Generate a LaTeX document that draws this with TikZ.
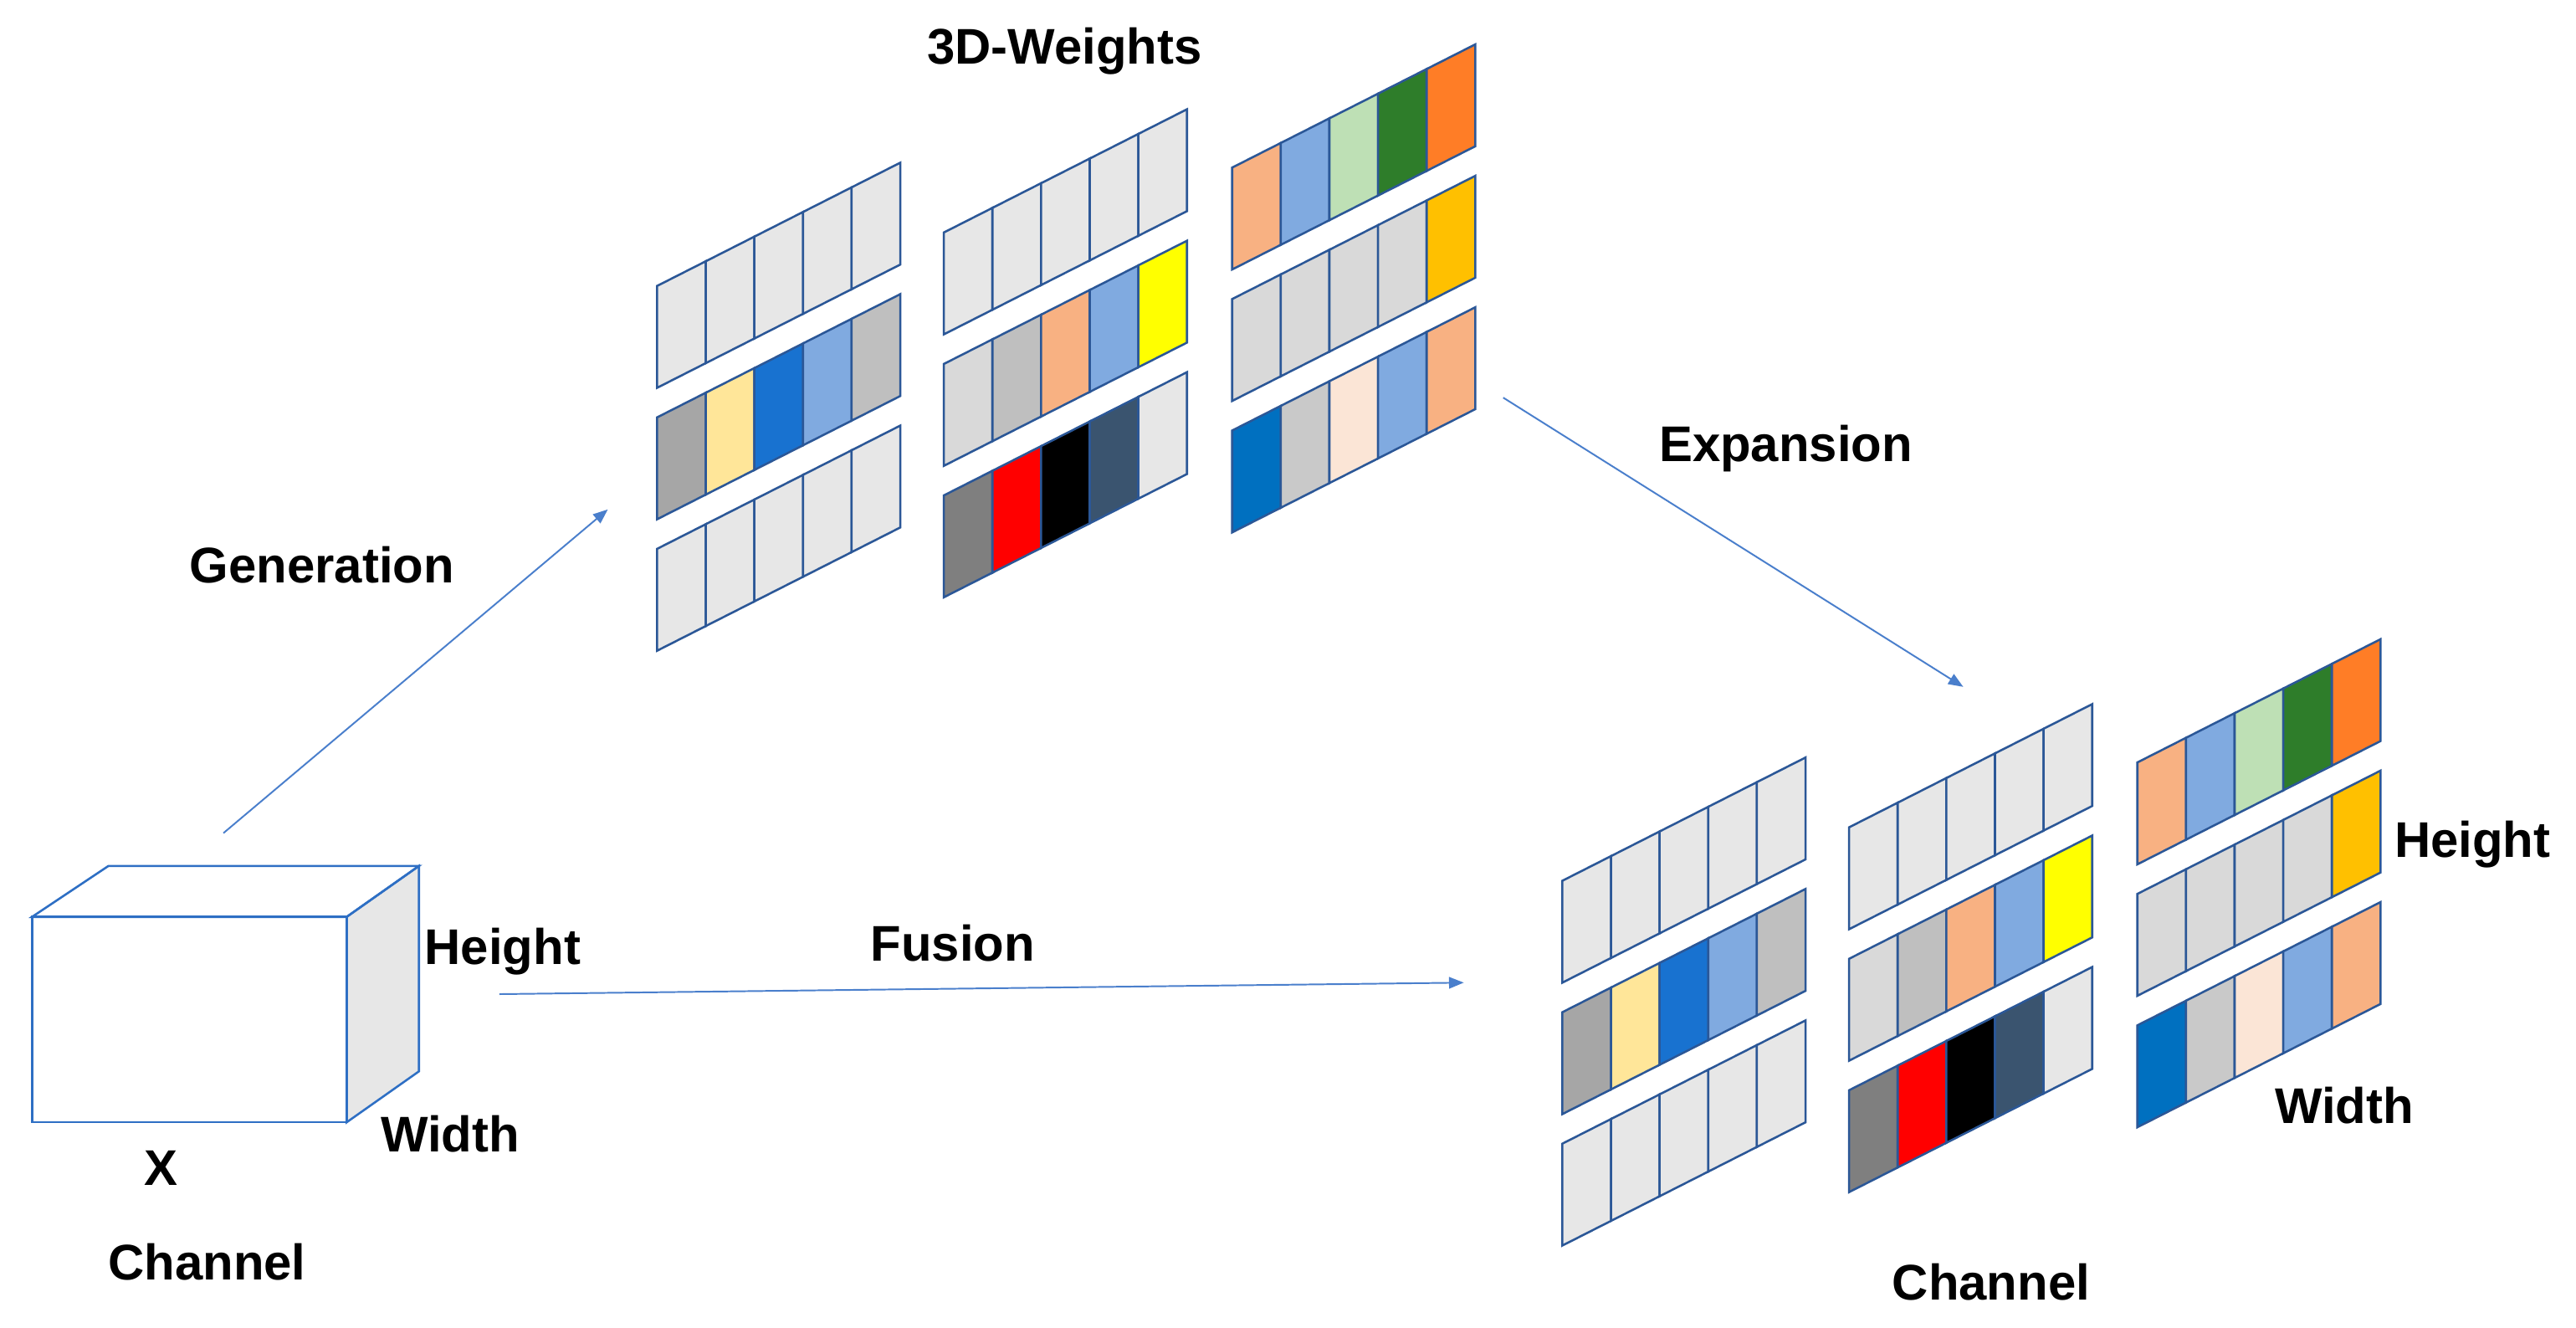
\documentclass[tikz,border=0pt]{standalone}
\usepackage{fontspec}
\setmainfont{Liberation Sans}
\usetikzlibrary{arrows.meta}
\definecolor{lg}{HTML}{E7E7E7}
\definecolor{mg}{HTML}{D9D9D9}
\definecolor{cA}{HTML}{A6A6A6}
\definecolor{cB}{HTML}{FFE699}
\definecolor{cC}{HTML}{1872D0}
\definecolor{cD}{HTML}{80AAE0}
\definecolor{cE}{HTML}{BFBFBF}
\definecolor{cF}{HTML}{F8B182}
\definecolor{cY}{HTML}{FFFF00}
\definecolor{cG}{HTML}{7F7F7F}
\definecolor{cR}{HTML}{FF0000}
\definecolor{cK}{HTML}{000000}
\definecolor{cS}{HTML}{3A546F}
\definecolor{cL}{HTML}{BEE0B5}
\definecolor{cN}{HTML}{2E7D2A}
\definecolor{cO}{HTML}{FF7D26}
\definecolor{cQ}{HTML}{FFC000}
\definecolor{cP}{HTML}{0070C0}
\definecolor{cI}{HTML}{C9C9C9}
\definecolor{cT}{HTML}{FBE5D6}
\definecolor{outl}{HTML}{2B5797}
\definecolor{arr}{HTML}{4A7FCC}
\definecolor{cubel}{HTML}{2E6FC4}
\newcommand\wstrip[3]{%
  \foreach \c [count=\i from 0] in {#3}{%
    \filldraw[fill=\c,draw=outl,line width=1.3pt,line join=miter]
      ({#1+\i*29.6},{#2-\i*15}) -- ({#1+(\i+1)*29.6},{#2-(\i+1)*15})
      -- ({#1+(\i+1)*29.6},{#2-(\i+1)*15+62}) -- ({#1+\i*29.6},{#2-\i*15+62}) -- cycle;
  }%
}
\newcommand\wgroup[2]{%
  \begin{scope}[shift={(#1,#2)}]
  \wstrip{400}{174}{lg,lg,lg,lg,lg}
  \wstrip{400}{254}{cA,cB,cC,cD,cE}
  \wstrip{400}{334}{lg,lg,lg,lg,lg}
  \wstrip{574.5}{141.5}{lg,lg,lg,lg,lg}
  \wstrip{574.5}{221.5}{mg,cE,cF,cD,cY}
  \wstrip{574.5}{301.5}{cG,cR,cK,cS,lg}
  \wstrip{750}{102}{cF,cD,cL,cN,cO}
  \wstrip{750}{182}{mg,mg,mg,mg,cQ}
  \wstrip{750}{262}{cP,cI,cT,cD,cF}
  \end{scope}%
}
\begin{document}
\begin{tikzpicture}[x=1pt,y=-1pt,
  lbl/.style={font=\fontsize{30.5}{36}\selectfont\bfseries,inner sep=0pt},
  conn/.style={draw=arr,line width=1pt,-{Triangle[length=9pt,width=7pt]}}]
\useasboundingbox (0,0) rectangle (1568,808);
\fill[white] (0,0) rectangle (1568,808);
% strips
\wgroup{0}{0}
\wgroup{551}{362}
% cube
\filldraw[fill=lg,draw=cubel,line width=1.3pt] (211,558) -- (255,527) -- (255,652) -- (211,683) -- cycle;
\draw[cubel,line width=1.3pt] (19.5,558) -- (66,527) -- (255,527) -- (211,558) -- cycle;
\draw[cubel,line width=1.3pt] (19.5,558) rectangle (211,683);
% labels
\node[lbl] (tw) at (648,31) {3D-Weights};
\node[lbl] (gen) at (196,344) {Generation};
\node[lbl] (exp) at (1087,273) {Expansion};
\node[lbl] (fus) at (580,574) {Fusion};
\node[lbl] (h1) at (306,579) {Height};
\node[lbl] (w1) at (274,690) {Width};
\node[lbl] (x) at (98,711) {X};
\node[lbl] (c1) at (126,768) {Channel};
\node[lbl] (h2) at (1505,514) {Height};
\node[lbl] (w2) at (1427,673) {Width};
\node[lbl] (c2) at (1212,780) {Channel};
% connectors
\coordinate (g1) at (136,507); \coordinate (g2) at (370,310);
\coordinate (e1) at (915,242); \coordinate (e2) at (1195,418);
\coordinate (f1) at (304,605); \coordinate (f2) at (891,598);
\draw[conn] (g1) -- (g2);
\draw[conn] (e1) -- (e2);
\draw[conn] (f1) -- (f2);
\end{tikzpicture}
\end{document}
